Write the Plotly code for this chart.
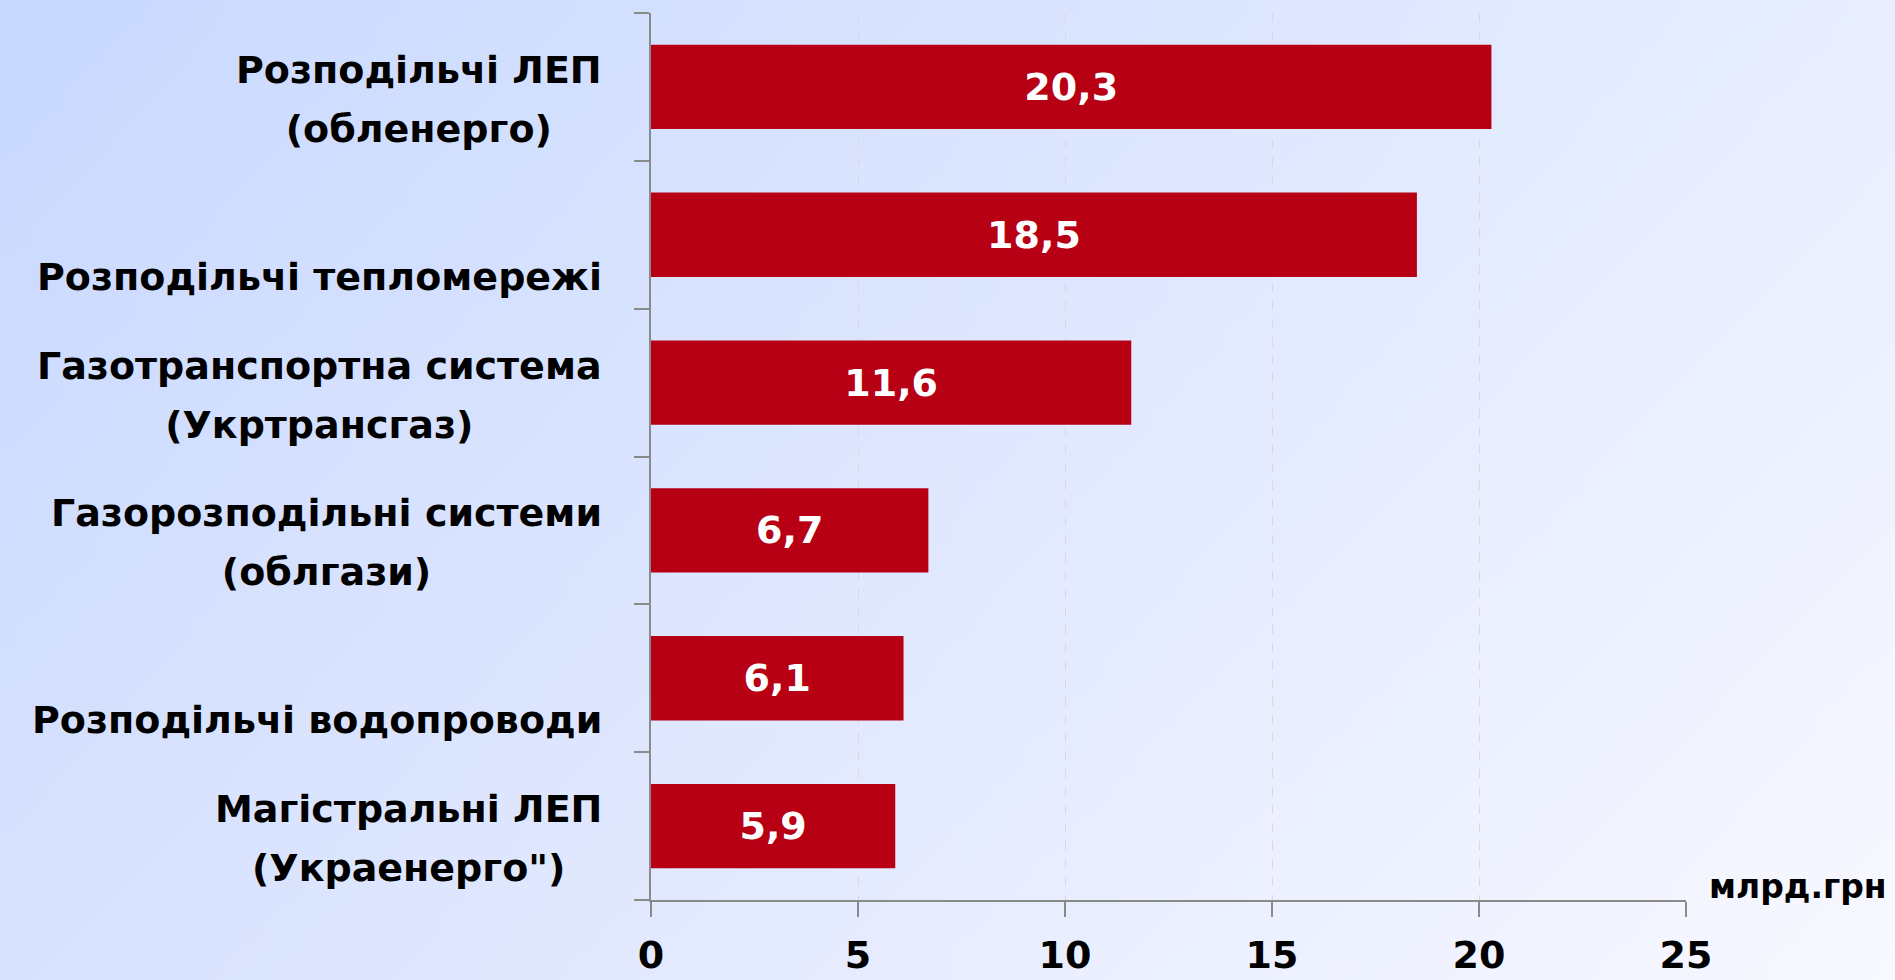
import base64
import struct
import zlib

import plotly.graph_objects as go

# ---------------- data ----------------
categories = [
    "Розподільчі ЛЕП<br>(обленерго)",
    "Розподільчі тепломережі",
    "Газотранспортна система<br>(Укртрансгаз)",
    "Газорозподільні системи<br>(облгази)",
    "Розподільчі водопроводи",
    "Магістральні ЛЕП<br>(Украенерго\")",
]
values = [20.3, 18.5, 11.6, 6.7, 6.1, 5.9]
x_ticks = [0, 5, 10, 15, 20, 25]
unit_label = "млрд.грн"

# ---------------- layout constants ----------------
W, H = 1895, 980
ML, MR, MT, MB = 651, 209, 13, 80
PW, PH = W - ML - MR, H - MT - MB
FONT = "DejaVu Sans, Liberation Sans, Arial, sans-serif"
BAR_COLOR = "#B70014"
AXIS_COLOR = "#8a8a8a"
LABEL_SIZE = 38
LINE_GAP = 59                     # px between label lines in the original
BLOCK_SIZE = LINE_GAP / 1.3       # plotly line spacing is 1.3 em


def gradient_png(w, h):
    tl = (200, 216, 254)
    dx = (32, 22, 1)
    dy = (16, 10, 0)
    raw = bytearray()
    for j in range(h):
        raw.append(0)
        fy = j / (h - 1)
        for i in range(w):
            fx = i / (w - 1)
            for c in range(3):
                v = tl[c] + dx[c] * fx + dy[c] * fy
                raw.append(max(0, min(255, int(round(v)))))

    def chunk(tag, data):
        return (struct.pack(">I", len(data)) + tag + data
                + struct.pack(">I", zlib.crc32(tag + data) & 0xFFFFFFFF))

    png = b"\x89PNG\r\n\x1a\n"
    png += chunk(b"IHDR", struct.pack(">IIBBBBB", w, h, 8, 2, 0, 0, 0))
    png += chunk(b"IDAT", zlib.compress(bytes(raw), 9))
    png += chunk(b"IEND", b"")
    return "data:image/png;base64," + base64.b64encode(png).decode()


text_labels = [f"{v:.1f}".replace(".", ",") for v in values]

fig = go.Figure()
fig.add_trace(go.Bar(
    y=list(range(len(categories))),
    x=values,
    orientation="h",
    width=0.57,
    marker=dict(color=BAR_COLOR, line=dict(width=0)),
    text=text_labels,
    textposition="inside",
    insidetextanchor="middle",
    textangle=0,
    textfont=dict(family=FONT, size=38, color="white", weight="bold"),
    hoverinfo="skip",
))

# category labels: block right-aligned, lines centred to each other;
# single-line labels sit where a second line would be, as in the original
for i, lab in enumerate(categories):
    lines = lab.split("<br>")
    n = len(lines)
    if n == 1:
        centre = 42
    else:
        centre = -17 + (n - 1) * LINE_GAP / 2
    text = "<br>".join(
        f"<span style='font-size:{LABEL_SIZE}px'>{ln}</span>" for ln in lines
    )
    fig.add_annotation(
        x=0, xref="paper", xanchor="right", xshift=-47,
        y=i, yref="y", yanchor="middle", yshift=-centre,
        text=text, showarrow=False, align="center",
        font=dict(family=FONT, size=BLOCK_SIZE if n > 1 else LABEL_SIZE,
                  color="black", weight="bold"),
    )

fig.add_annotation(
    x=1, xref="paper", xanchor="right", xshift=203,
    y=0, yref="paper", yanchor="middle", yshift=14,
    text=unit_label, showarrow=False,
    font=dict(family=FONT, size=33, color="black", weight="bold"),
)

fig.add_layout_image(dict(
    source=gradient_png(190, 98),
    xref="paper", yref="paper",
    x=-ML / PW, y=1 + MT / PH,
    sizex=W / PW, sizey=H / PH,
    xanchor="left", yanchor="top",
    sizing="stretch", layer="below",
))

fig.update_layout(
    width=W, height=H,
    margin=dict(l=ML, r=MR, t=MT, b=MB, pad=0, autoexpand=False),
    paper_bgcolor="#dfe7ff",
    plot_bgcolor="rgba(0,0,0,0)",
    showlegend=False,
    xaxis=dict(
        range=[0, 25],
        automargin=False,
        tickvals=x_ticks,
        ticktext=[str(t) for t in x_ticks],
        showgrid=True, gridcolor="#d9d9d9", griddash="dash", gridwidth=1,
        zeroline=False,
        showline=True, linecolor=AXIS_COLOR, linewidth=2,
        ticks="outside", ticklen=15, tickwidth=2, tickcolor=AXIS_COLOR,
        ticklabelstandoff=5,
        tickfont=dict(family=FONT, size=38, color="black", weight="bold"),
        fixedrange=True,
    ),
    yaxis=dict(
        type="linear",
        automargin=False,
        range=[len(categories) - 0.5, -0.5],
        tickvals=[k - 0.5 for k in range(len(categories) + 1)],
        showticklabels=False,
        showgrid=False, zeroline=False,
        showline=True, linecolor=AXIS_COLOR, linewidth=2,
        ticks="outside", ticklen=15, tickwidth=2, tickcolor=AXIS_COLOR,
        fixedrange=True,
    ),
)

fig.write_html(
    "out.html",
    config={"displayModeBar": False},
    post_script="document.body.style.margin='0';document.body.style.overflow='hidden';",
)
